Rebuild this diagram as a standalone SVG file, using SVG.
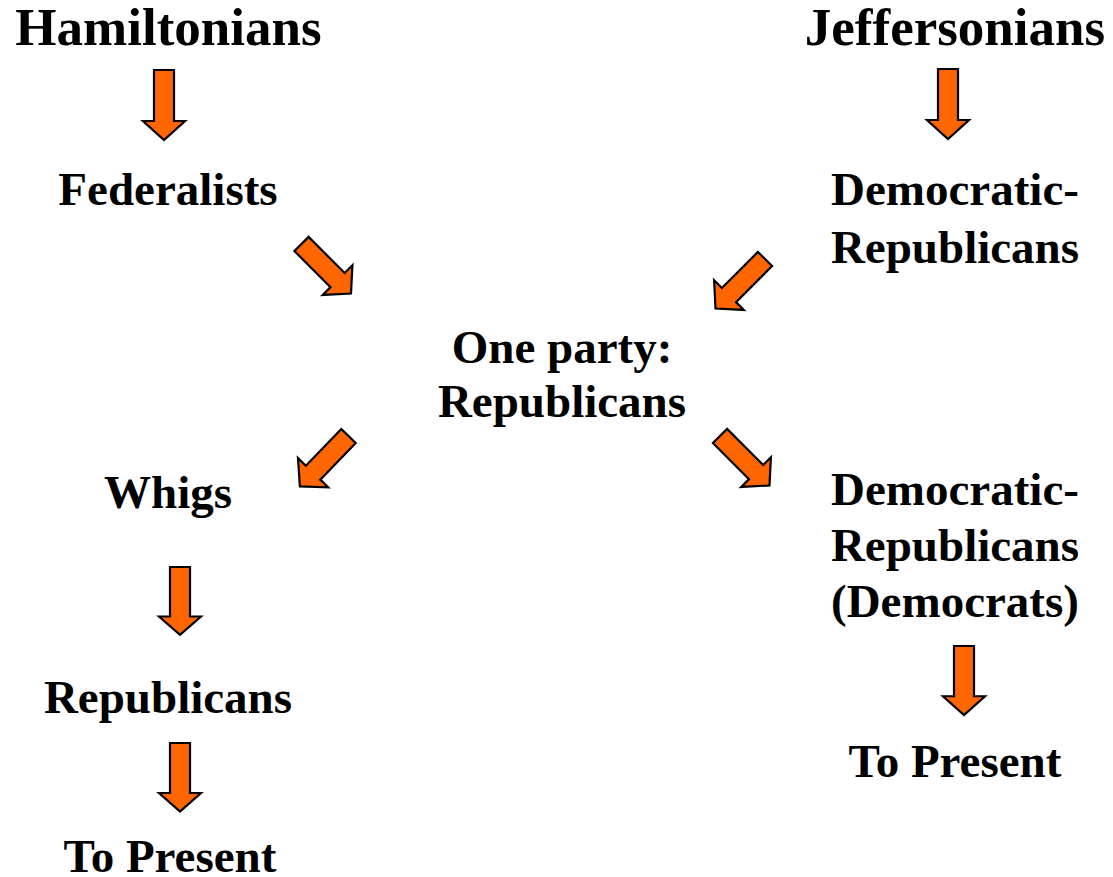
<svg xmlns="http://www.w3.org/2000/svg" xmlns:xlink="http://www.w3.org/1999/xlink" width="1113" height="877" viewBox="0 0 1113 877">
<style>
text{font-family:"Liberation Serif","Times New Roman",serif;font-weight:bold;fill:#000;text-anchor:middle}
.t{font-size:53px}
.n{font-size:47px}
.arr{fill:#FF6600;stroke:#000;stroke-width:2.2;stroke-linejoin:miter}
</style>
<defs>
<path id="a" class="arr" d="M-10,0 L10,0 L10,51 L21,51 L0,70 L-21,51 L-10,51 Z"/>
</defs>
<rect width="1113" height="877" fill="#fff"/>
<g id="connectors">
<use xlink:href="#a" href="#a" transform="translate(164,70)"/>
<use xlink:href="#a" href="#a" transform="translate(948,69)"/>
<use xlink:href="#a" href="#a" transform="translate(301.5,244) rotate(-45)"/>
<use xlink:href="#a" href="#a" transform="translate(765,259) rotate(45)"/>
<use xlink:href="#a" href="#a" transform="translate(348.5,436) rotate(44)"/>
<use xlink:href="#a" href="#a" transform="translate(720,436) rotate(-45)"/>
<use xlink:href="#a" href="#a" transform="translate(180,567) scale(1,0.97)"/>
<use xlink:href="#a" href="#a" transform="translate(180,743) scale(1,0.98)"/>
<use xlink:href="#a" href="#a" transform="translate(964,646) scale(1,0.985)"/>
</g>
<g id="hamiltonians"><text class="t" x="168.5" y="45">Hamiltonians</text></g>
<g id="jeffersonians"><text class="t" x="955" y="45">Jeffersonians</text></g>
<g id="federalists"><text class="n" x="168" y="205">Federalists</text></g>
<g id="dem-rep"><text class="n" x="955" y="205">Democratic-</text><text class="n" x="955" y="263">Republicans</text></g>
<g id="one-party"><text class="n" x="562" y="363">One party:</text><text class="n" x="562" y="417">Republicans</text></g>
<g id="whigs"><text class="n" x="168" y="508">Whigs</text></g>
<g id="dem-rep-dem"><text class="n" x="955" y="505">Democratic-</text><text class="n" x="955" y="561">Republicans</text><text class="n" x="955" y="617">(Democrats)</text></g>
<g id="republicans"><text class="n" x="168" y="713">Republicans</text></g>
<g id="present-left"><text class="n" x="170" y="872">To Present</text></g>
<g id="present-right"><text class="n" x="955" y="777">To Present</text></g>
</svg>
